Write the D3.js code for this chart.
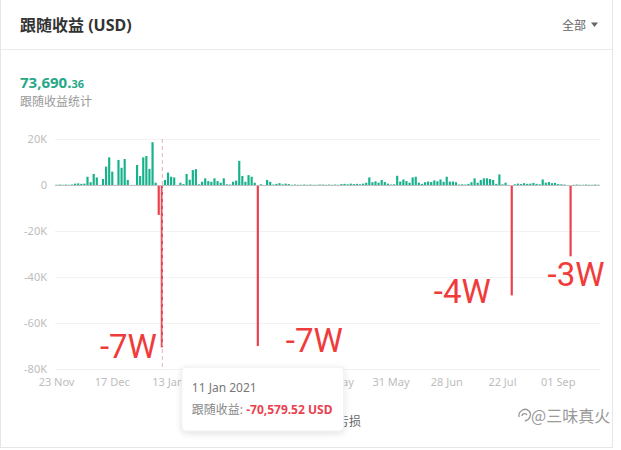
<!DOCTYPE html>
<html><head><meta charset="utf-8">
<script src="https://cdn.jsdelivr.net/npm/d3@7"></script>
<style>
body{margin:0;background:#fff;}
svg{display:block;font-family:"Noto Sans","Noto Sans CJK SC",sans-serif;}
</style></head><body>
<svg id="c" width="621" height="450"></svg>
<script>
// daily follow profit, thousands of USD
const values = [
  0.1,0.2,0.1,0.2,0.1,0.2,0.6,0.7,0.5,0.6,
  3.6,1.2,4.8,3.3,0,2.6,8.0,12.0,5.8,0,
  10.9,7.5,11.3,2.2,0,0,8.7,3.9,12.0,12.6,
  7.0,18.6,1.0,-13.0,-70.58,2.2,5.4,3.6,3.3,0,
  1.0,0.4,4.8,2.3,6.5,6.9,0.3,1.4,2.9,1.7,
  1.4,2.9,1.7,1.0,2.9,0.3,0.2,1.4,1.9,10.5,
  3.9,1.4,4.3,3.6,1.0,-70.0,0.3,0,2.2,1.4,
  0.2,0.5,0.8,0.3,0.6,0.4,0.1,0.2,0.1,0.1,
  0.2,0.1,0.2,0.1,0.1,0.2,0.2,0.1,0.2,0.1,
  0.2,0.1,0.4,0.5,0.3,0.6,0.4,0.5,0.3,0.6,
  1.0,3.3,1.2,1.6,1.0,2.2,1.3,0.6,0.2,0.3,
  4.0,1.5,2.4,1.7,1.0,3.3,3.6,1.0,0.5,1.2,
  1.5,1.3,2.0,1.6,2.4,1.4,3.6,1.5,1.5,1.2,
  0.2,0.3,0.2,0.5,1.2,2.9,1.0,2.2,2.9,2.9,
  2.6,2.2,0.5,4.6,0.3,1.0,0,-48.0,0.3,0.6,
  0.4,0.8,0.5,0.6,0.9,0.5,0.3,2.4,1.0,1.3,
  0.8,0.9,0.4,0.3,0.2,0,-31.0,0.1,0.2,0.1,
  0.1,0.2,0.1,0.1,0.2,0.1
];
// labels hidden behind the tooltip in the reference are left blank
const tickLabels = ["23 Nov","17 Dec","13 Jan","","","06 May","31 May","28 Jun","22 Jul","01 Sep"];
const tickEvery = 18;
const yTicks = [20,0,-20,-40,-60,-80];
const hoverIndex = 34;
const hoverDate = "11 Jan 2021";
const hoverText = "-70,579.52 USD";
const totalMain = "73,690.";
const totalCents = "36";
const annotationIdx = [34,65,147,166];
const annotationText = ["-7W","-7W","-4W","-3W"];
const annotationPlace = [[-5,11,"end"],[28,6,"start"],[-21,8,"end"],[-23,30,"start"]];
const legendItems = ["亏损"];

const GREEN="#17b28c", RED="#ea3f4c", NUMGREEN="#27a887";
const svg = d3.select("#c");

// card
svg.append("rect").attr("x",0.5).attr("y",-2).attr("width",612).attr("height",449.5)
  .attr("fill","#fff").attr("stroke","#e6e6e6");
svg.append("line").attr("x1",1).attr("x2",612).attr("y1",49.5).attr("y2",49.5).attr("stroke","#ebebeb");

svg.append("text").attr("x",20).attr("y",31).attr("font-size",16).attr("font-weight","bold")
  .attr("fill","#333").text("跟随收益 (USD)");
svg.append("text").attr("x",562).attr("y",30).attr("font-size",12).attr("fill","#666").text("全部");
svg.append("path").attr("d","M591,22.5 L598,22.5 L594.5,27 Z").attr("fill","#666");

const tot = svg.append("text").attr("x",20).attr("y",88).attr("font-weight","bold").attr("fill",NUMGREEN);
tot.append("tspan").attr("font-size",15).text(totalMain);
tot.append("tspan").attr("font-size",11).text(totalCents);
svg.append("text").attr("x",20).attr("y",106).attr("font-size",12).attr("fill","#999").text("跟随收益统计");

// scales
const x = d3.scaleBand().domain(d3.range(values.length)).range([55,600]).paddingInner(0.3).paddingOuter(0.15);
const y = d3.scaleLinear().domain([-80,20]).range([369,139]);
const cx = i => x(i) + x.bandwidth()/2;

// grid
svg.append("g").selectAll("line").data(yTicks.filter(d=>d!==0)).join("line")
  .attr("x1",55).attr("x2",600).attr("y1",d=>y(d)+0.5).attr("y2",d=>y(d)+0.5).attr("stroke","#f2f2f2");
svg.append("g").selectAll("text").data(yTicks).join("text")
  .attr("x",47).attr("y",d=>y(d)+4).attr("text-anchor","end").attr("font-size",11).attr("fill","#bdbdbd")
  .text(d=>d===0?"0":d+"K");

// bars
svg.append("g").selectAll("rect").data(values).join("rect")
  .attr("x",(d,i)=>x(i)).attr("width",x.bandwidth())
  .attr("y",d=>d>=0?y(d):y(0)).attr("height",d=>Math.abs(y(d)-y(0)))
  .attr("fill",d=>d>=0?GREEN:RED);

svg.append("line").attr("x1",55).attr("x2",600).attr("y1",y(0)+0.5).attr("y2",y(0)+0.5).attr("stroke","#bfbfbf");

// hover dashed line
svg.append("line").attr("x1",cx(hoverIndex)+0.5).attr("x2",cx(hoverIndex)+0.5)
  .attr("y1",y(20)).attr("y2",y(-80)).attr("stroke","#e2b4b8").attr("stroke-dasharray","4,3");

// x labels
svg.append("g").selectAll("text").data(tickLabels.map((t,k)=>({t,k})).filter(d=>d.t)).join("text")
  .attr("x",d=>cx(d.k*tickEvery)).attr("y",386).attr("text-anchor","middle")
  .attr("font-size",11).attr("fill","#bdbdbd").text(d=>d.t);

// annotations
svg.append("g").selectAll("text").data(annotationIdx).join("text")
  .attr("x",(d,k)=>cx(d)+annotationPlace[k][0])
  .attr("y",(d,k)=>y(values[d])+annotationPlace[k][1])
  .attr("text-anchor",(d,k)=>annotationPlace[k][2])
  .attr("font-family","Roboto, sans-serif").attr("font-size",33).attr("fill","#f03b3b")
  .text((d,k)=>annotationText[k]);

// legend (mostly covered by tooltip)
const lg = svg.append("g");
legendItems.forEach((t,k)=>{
  lg.append("rect").attr("x",325).attr("y",416).attr("width",9).attr("height",9).attr("fill",RED);
  lg.append("text").attr("x",337).attr("y",426).attr("font-size",12).attr("fill","#666").text(t);
});

// watermark
const wm = svg.append("g").attr("fill","none").attr("stroke","#9a9a9a").attr("stroke-width",1.3);
wm.append("path").attr("d","M519,417 C518,411 525,407 529,411 C532,414 530,420 525,421");
wm.append("path").attr("d","M522,416 C522,413 526,413 527,415");
svg.append("text").attr("x",531).attr("y",422).attr("font-size",16).attr("fill","#9a9a9a")
  .attr("font-family","Noto Sans CJK SC, sans-serif").text("@三味真火");

// tooltip
const defs = svg.append("defs");
const f = defs.append("filter").attr("id","sh").attr("x","-20%").attr("y","-20%").attr("width","140%").attr("height","150%");
f.append("feDropShadow").attr("dx",0).attr("dy",2).attr("stdDeviation",3).attr("flood-color","#000").attr("flood-opacity",0.12);
const tx = cx(hoverIndex)+20;
svg.append("rect").attr("x",tx).attr("y",367).attr("width",162).attr("height",64).attr("rx",4)
  .attr("fill","#fff").attr("stroke","#eeeeee").attr("filter","url(#sh)");
svg.append("text").attr("x",tx+10).attr("y",392).attr("font-size",12).attr("fill","#777").text(hoverDate);
const tt = svg.append("text").attr("x",tx+10).attr("y",414).attr("font-size",12);
tt.append("tspan").attr("fill","#888").text("跟随收益: ");
tt.append("tspan").attr("fill","#e8414f").attr("font-weight","bold").text(hoverText);
</script>
</body></html>
